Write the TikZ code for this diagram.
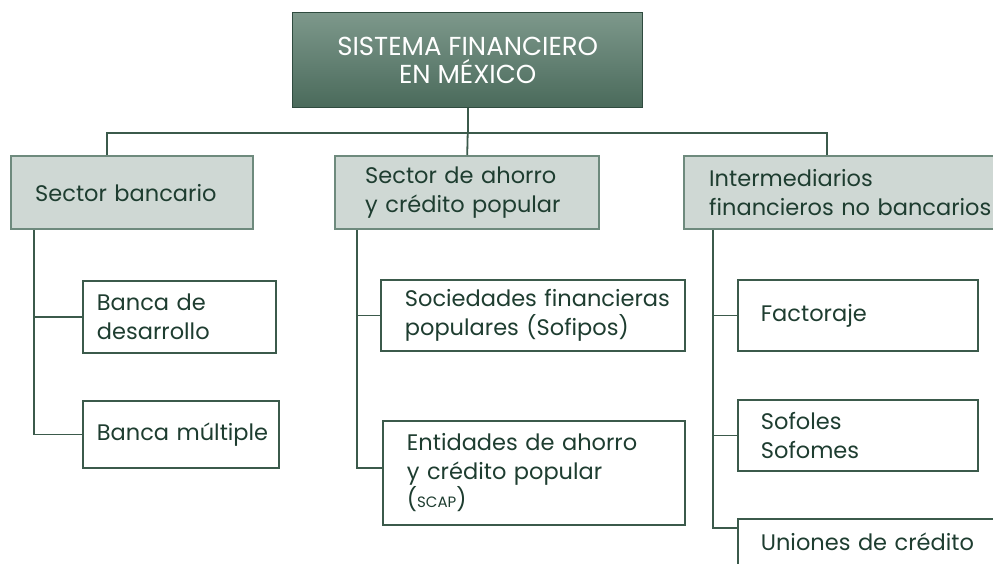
\documentclass[tikz,border=0pt]{standalone}
\usepackage{fontspec}
\setmainfont{Poppins}
\usetikzlibrary{positioning, calc}
\definecolor{linegreen}{HTML}{3B5A4B}
\definecolor{textgreen}{HTML}{1E3D30}
\definecolor{sectorfill}{HTML}{CFD8D4}
\definecolor{sectoredge}{HTML}{6E8A7D}
\definecolor{rootlight}{HTML}{7D988B}
\definecolor{rootdark}{HTML}{4A6A5B}
\definecolor{rootedge}{HTML}{2F4B3F}
\hyphenpenalty=10000
\exhyphenpenalty=10000
\tikzset{
  rootbox/.style = {
    draw=rootedge, line width=1.4pt, top color=rootlight, bottom color=rootdark,
    text=white, align=center, minimum width=350pt, minimum height=95pt, anchor=north west,
    font=\fontsize{26}{28.5}\selectfont
  },
  sectorbox/.style = {
    draw=sectoredge, line width=2.4pt, fill=sectorfill, text=textgreen,
    align=left, anchor=north west, inner ysep=0pt, minimum height=73pt
  },
  leafbox/.style = {
    draw=linegreen, line width=1.8pt, fill=white, text=textgreen,
    align=left, anchor=north west, inner ysep=0pt
  },
  link/.style = {draw=linegreen, line width=1.8pt},
}

\begin{document}
\begin{tikzpicture}[x=1pt, y=-1pt, font=\fontsize{22.5}{28.5}\selectfont]
    \useasboundingbox (0,0) rectangle (993,564);
    \fill[white] (0,0) rectangle (993,564);
    \clip (0,0) rectangle (993,564);

    % Root of the chart
    \node[rootbox] (sistema) at (292,12) {SISTEMA~FINANCIERO\\EN~MÉXICO};

    % Three sectors
    \node[sectorbox, inner xsep=24pt, text width=194pt] (bancario) at (10,155) {Sector~bancario};
    \node[sectorbox, inner xsep=30pt, text width=204pt] (ahorro) at (334,155) {Sector~de~ahorro\\y~crédito~popular};
    \node[sectorbox, inner xsep=25pt, text width=330pt] (interm) at (683,155) {Intermediarios\\financieros~no~bancarios};

    % Institutions under each sector
    \node[leafbox, inner xsep=14pt, text width=165pt, minimum height=72pt] (desarrollo) at (82,280) {Banca~de\\desarrollo};
    \node[leafbox, inner xsep=14pt, text width=168pt, minimum height=67pt] (multiple) at (82,400) {Banca~múltiple};

    \node[leafbox, inner xsep=24pt, text width=256pt, minimum height=71pt] (sofipos) at (380,279) {Sociedades~financieras\\populares~(Sofipos)};
    \node[leafbox, inner xsep=24pt, text width=254pt, minimum height=104pt] (entidades) at (382,420)
      {Entidades~de~ahorro\\y~crédito~popular\\({\fontsize{15}{28.5}\selectfont SCAP})};

    \node[leafbox, inner xsep=23pt, text width=194pt, minimum height=71pt] (factoraje) at (737,279) {Factoraje};
    \node[leafbox, inner xsep=23pt, text width=194pt, minimum height=71pt] (sofoles) at (737,399) {Sofoles\\Sofomes};
    \node[leafbox, inner xsep=23pt, text width=260pt, minimum height=46pt] (uniones) at (737,518) {Uniones~de~crédito};
    \path[fill=white] ([yshift=1pt]uniones.south west) rectangle (993,564);
    \draw[link] ([yshift=-1pt]uniones.south west) -- (737,566);

    % Bus from the root to the sectors
    \draw[link] (sistema.south) -- ++(0,25) coordinate (bus);
    \draw[link] ([xshift=97pt]bancario.north west) |- (bus) -| ([xshift=144pt]interm.north west);
    \draw[link] (bus) -- (ahorro.north);

    % Trunks down to the institutions
    \draw[link] ([xshift=24pt]bancario.south west) |- (desarrollo.west);
    \draw[link] ([xshift=24pt]bancario.south west) |- (multiple.west);
    \draw[link] ([xshift=23pt]ahorro.south west) |- (sofipos.west);
    \draw[link] ([xshift=23pt]ahorro.south west) |- ([yshift=5pt]entidades.west);
    \draw[link] ([xshift=30pt]interm.south west) |- (factoraje.west);
    \draw[link] ([xshift=30pt]interm.south west) |- (sofoles.west);
    \draw[link] ([xshift=30pt]interm.south west) |- ([yshift=-10pt]uniones.north west);

  \end{tikzpicture}
\end{document}
